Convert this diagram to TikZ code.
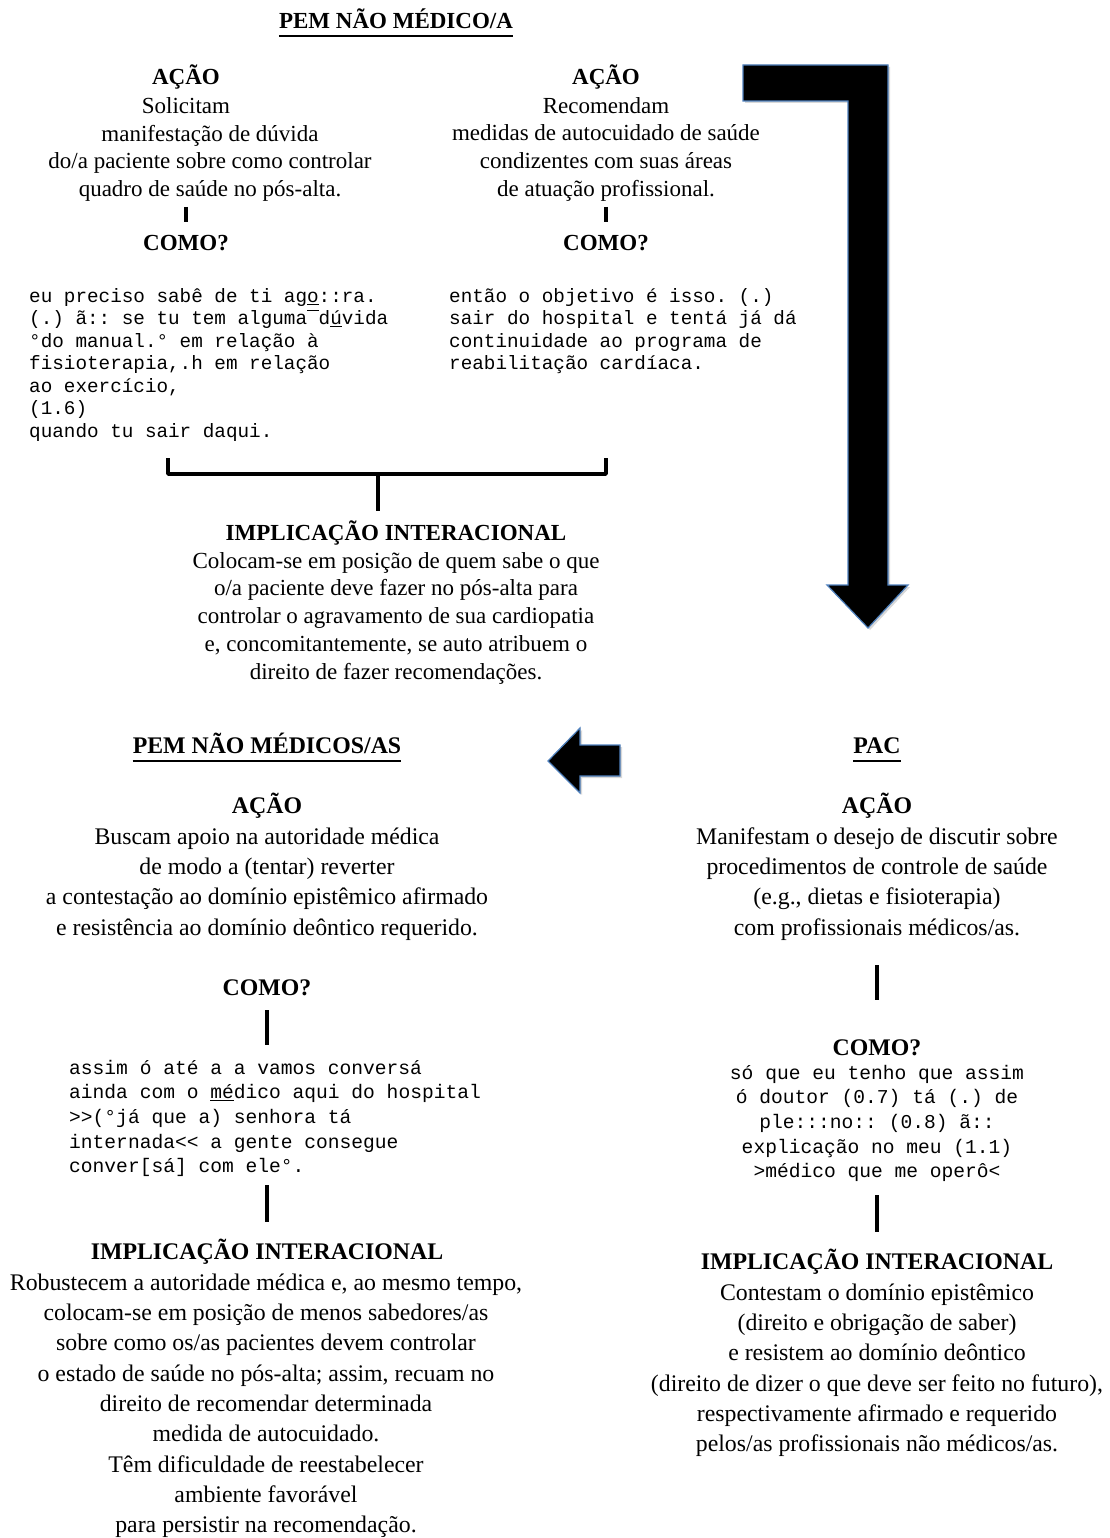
\documentclass[tikz,border=0pt]{standalone}
\usepackage{fontspec}
\setmainfont{Liberation Serif}
\setmonofont{Liberation Mono}
\usetikzlibrary{shadows}
\definecolor{arrowblue}{RGB}{79,129,189}
\newcommand{\topfont}{\fontsize{23}{27.7}\selectfont}
\newcommand{\botfont}{\fontsize{23.8}{30.3}\selectfont}
\newcommand{\monotop}{\ttfamily\fontsize{19.3}{22.5}\selectfont}
\newcommand{\monobot}{\ttfamily\fontsize{19.6}{24.6}\selectfont}
\newcommand{\ovmark}{\makebox[0.6em][l]{\raisebox{0.72em}{\rule{0.6em}{0.7pt}}}}
\begin{document}
\begin{tikzpicture}[x=1pt,y=-1pt,
  hd/.style={inner sep=0pt, anchor=base, font=\topfont\bfseries},
  hdb/.style={inner sep=0pt, anchor=base, font=\botfont\bfseries},
  blk/.style={inner sep=0pt, anchor=north, align=center, font=\topfont},
  blkb/.style={inner sep=0pt, anchor=north, align=center, font=\botfont},
  mono/.style={inner sep=0pt, anchor=north west, align=left, font=\monotop},
  monob/.style={inner sep=0pt, align=left, font=\monobot},
  bar/.style={line width=3.5pt},
  brace/.style={line width=3.5pt, line join=round},
  uline/.style={line width=1.6pt},
  bigarrow/.style={fill=black, draw=arrowblue, line width=1.2pt,
    drop shadow={opacity=0.3, shadow xshift=2pt, shadow yshift=-2pt}}
]
\useasboundingbox (0,0) rectangle (1109,1538);
\fill[white] (0,0) rectangle (1109,1538);

% ---------- title ----------
\node[hd] (title) at (396,29) {PEM NÃO MÉDICO/A};
\draw[uline] ([yshift=-7pt]title.base west) -- ([yshift=-7pt]title.base east);

% ---------- top left ----------
\node[hd] (tlh) at (186,85) {AÇÃO};
\node[blk] (tla1) at (186,{113-19.39}) {\strut Solicitam};
\node[blk] (tla2) at (210,{141-19.39}) {\strut manifestação de dúvida\\do/a paciente sobre como controlar\\quadro de saúde no pós-alta.};
\coordinate (tlb1) at (186,207);
\coordinate (tlb2) at (186,222);
\draw[bar] (tlb1) -- (tlb2);
\node[hd] (tlc) at (186,251) {COMO?};
\node[mono] (tlm) at (29,{302-15.75}) {\strut eu preciso sabê de ti ag\underline{o}::ra.\\
(.) ã:: se tu tem alguma\ovmark d\underline{ú}vida\\
°do manual.° em relação à\\
fisioterapia,.h em relação\\
ao exercício,\\
(1.6)\\
quando tu sair daqui.};

% ---------- top right ----------
\node[hd] (trh) at (606,85) {AÇÃO};
\node[blk] (tra) at (606,{113-19.39}) {\strut Recomendam\\medidas de autocuidado de saúde\\condizentes com suas áreas\\de atuação profissional.};
\coordinate (trb1) at (606,207);
\coordinate (trb2) at (606,222);
\draw[bar] (trb1) -- (trb2);
\node[hd] (trc) at (606,251) {COMO?};
\node[mono] (trm) at (449,{302-15.75}) {\strut então o objetivo é isso. (.)\\
sair do hospital e tentá já dá\\
continuidade ao programa de\\
reabilitação cardíaca.};

% ---------- bracket ----------
\coordinate (brl) at (168,458);
\coordinate (brr) at (606,458);
\coordinate (brm) at (378,474);
\coordinate (brs) at (378,511);
\draw[brace] (brl) |- (brm) -| (brr);
\draw[bar] (brm) -- (brs);

% ---------- top implication ----------
\node[hd] (tih) at (396,540) {IMPLICAÇÃO INTERACIONAL};
\node[blk] (tit) at (396,{568-19.39}) {\strut Colocam-se em posição de quem sabe o que\\o/a paciente deve fazer no pós-alta para\\controlar o agravamento de sua cardiopatia\\e, concomitantemente, se auto atribuem o\\direito de fazer recomendações.};

% ---------- big bent arrow ----------
\draw[bigarrow] (743,65) -- (888,65) -- (888,585) -- (908,585) -- (868,628)
  -- (827,585) -- (848,585) -- (848,101) -- (743,101) -- cycle;

% ---------- left arrow ----------
\draw[bigarrow] (620,745) -- (580,745) -- (580,728) -- (548,761) -- (580,793)
  -- (580,776) -- (620,776) -- cycle;

% ---------- bottom left ----------
\node[hdb] (pem) at (267,753) {PEM NÃO MÉDICOS/AS};
\draw[uline] ([yshift=-8pt]pem.base west) -- ([yshift=-8pt]pem.base east);
\node[hdb] (blh) at (267,813) {AÇÃO};
\node[blkb] (bla) at (267,{844-21.21}) {\strut Buscam apoio na autoridade médica\\de modo a (tentar) reverter\\a contestação ao domínio epistêmico afirmado\\e resistência ao domínio deôntico requerido.};
\node[hdb] (blc) at (267,995) {COMO?};
\coordinate (blb1) at (267,1010);
\coordinate (blb2) at (267,1045);
\draw[bar] (blb1) -- (blb2);
\node[monob, anchor=north west] (blm) at (69,{1074-17.22}) {\strut assim ó até a a vamos conversá\\
ainda com o \underline{mé}dico aqui do hospital\\
>>(°já que a) senhora tá\\
internada<< a gente consegue\\
conver[sá] com ele°.};
\coordinate (blb3) at (267,1185);
\coordinate (blb4) at (267,1222);
\draw[bar] (blb3) -- (blb4);
\node[hdb] (bli) at (267,1259) {IMPLICAÇÃO INTERACIONAL};
\node[blkb] (blt) at (266,{1290-21.21}) {\strut Robustecem a autoridade médica e, ao mesmo tempo,\\colocam-se em posição de menos sabedores/as\\sobre como os/as pacientes devem controlar\\o estado de saúde no pós-alta; assim, recuam no\\direito de recomendar determinada\\medida de autocuidado.\\Têm dificuldade de reestabelecer\\ambiente favorável\\para persistir na recomendação.};

% ---------- bottom right ----------
\node[hdb] (pac) at (877,753) {PAC};
\draw[uline] ([yshift=-8pt]pac.base west) -- ([yshift=-8pt]pac.base east);
\node[hdb] (brh) at (877,813) {AÇÃO};
\node[blkb] (bra) at (877,{844-21.21}) {\strut Manifestam o desejo de discutir sobre\\procedimentos de controle de saúde\\(e.g., dietas e fisioterapia)\\com profissionais médicos/as.};
\coordinate (brb1) at (877,965);
\coordinate (brb2) at (877,1000);
\draw[bar] (brb1) -- (brb2);
\node[hdb] (brc) at (877,1055) {COMO?};
\node[monob, anchor=north, align=center] (brm2) at (877,{1079-17.22}) {\strut só que eu tenho que assim\\
ó doutor (0.7) tá (.) de\\
ple:::no:: (0.8) ã::\\
explicação no meu (1.1)\\
>médico que me operô<};
\coordinate (brb3) at (877,1195);
\coordinate (brb4) at (877,1232);
\draw[bar] (brb3) -- (brb4);
\node[hdb] (bri) at (877,1269) {IMPLICAÇÃO INTERACIONAL};
\node[blkb] (brt) at (877,{1300-21.21}) {\strut Contestam o domínio epistêmico\\(direito e obrigação de saber)\\e resistem ao domínio deôntico\\(direito de dizer o que deve ser feito no futuro),\\respectivamente afirmado e requerido\\pelos/as profissionais não médicos/as.};
\end{tikzpicture}
\end{document}
